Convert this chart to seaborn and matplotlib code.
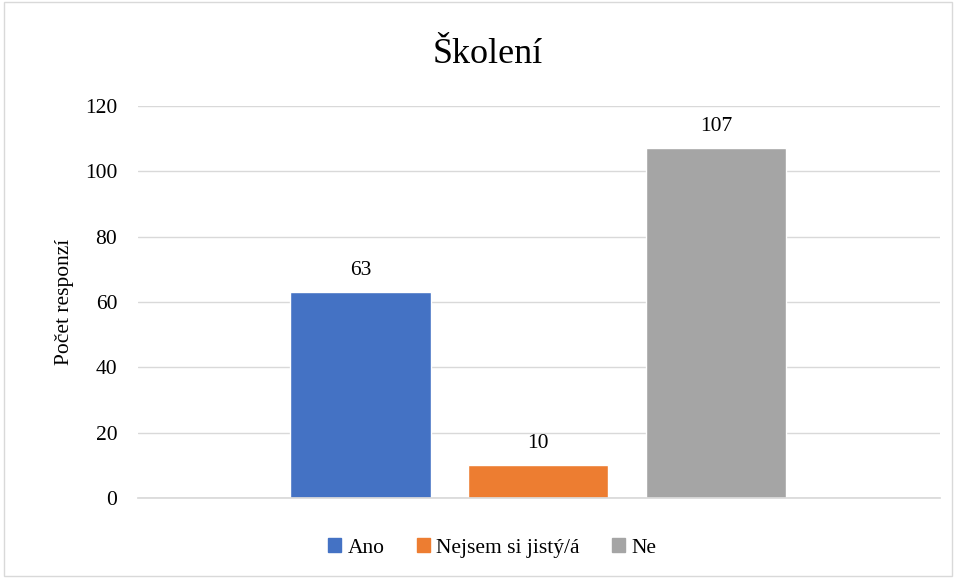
import matplotlib
matplotlib.use('Agg')
import matplotlib.pyplot as plt
import seaborn as sns
import pandas as pd
from matplotlib.patches import Rectangle

# data
categories = ['Ano', 'Nejsem si jistý/á', 'Ne']
values = [63, 10, 107]
colors = ['#4472C4', '#ED7D31', '#A5A5A5']
yticks = [0, 20, 40, 60, 80, 100, 120]

df = pd.DataFrame({'odpoved': categories, 'pocet': values})

sns.set_theme(style='white')
plt.rcParams['font.family'] = ['Liberation Serif', 'DejaVu Serif']
plt.rcParams['text.color'] = 'black'
plt.rcParams['axes.labelcolor'] = 'black'
plt.rcParams['ytick.color'] = 'black'

fig = plt.figure(figsize=(9.56, 5.78), dpi=100)
ax = fig.add_axes([0.1444, 0.1384, 0.8389, 0.6782])

sns.barplot(data=df, x='odpoved', y='pocet', hue='odpoved',
            palette=colors, width=0.79, saturation=1, ax=ax, legend=False)

ax.set_xlim(-1.25, 3.26)
ax.set_ylim(0, 120)
ax.set_yticks(yticks)
ax.set_yticklabels([str(t) for t in yticks], fontsize=15.5)
ax.set_xticks([])
ax.set_xlabel('')
ax.set_ylabel('Počet responzí', fontsize=15.5, labelpad=8)
ax.tick_params(axis='y', length=0, pad=15)
ax.grid(axis='y', color='#D9D9D9', linewidth=1)
ax.set_axisbelow(True)
for side in ['top', 'right', 'left']:
    ax.spines[side].set_visible(False)
ax.spines['bottom'].set_color('#D9D9D9')

for container in ax.containers:
    ax.bar_label(container, fontsize=15.5, padding=9, color='black')

fig.suptitle('Školení', fontsize=26, x=0.51, y=0.905, va='center')

handles = [Rectangle((0, 0), 1, 1, color=c) for c in colors]
fig.legend(handles, categories, loc='center', bbox_to_anchor=(0.515, 0.052),
           ncol=3, frameon=False, fontsize=15.5, handlelength=0.6,
           handleheight=0.6, handletextpad=0.3, columnspacing=1.5)

fig.patches.append(Rectangle((0.004, 0.004), 0.992, 0.992, transform=fig.transFigure,
                             fill=False, edgecolor='#D9D9D9', linewidth=1))

plt.savefig('out.png', dpi=100)
plt.close()
